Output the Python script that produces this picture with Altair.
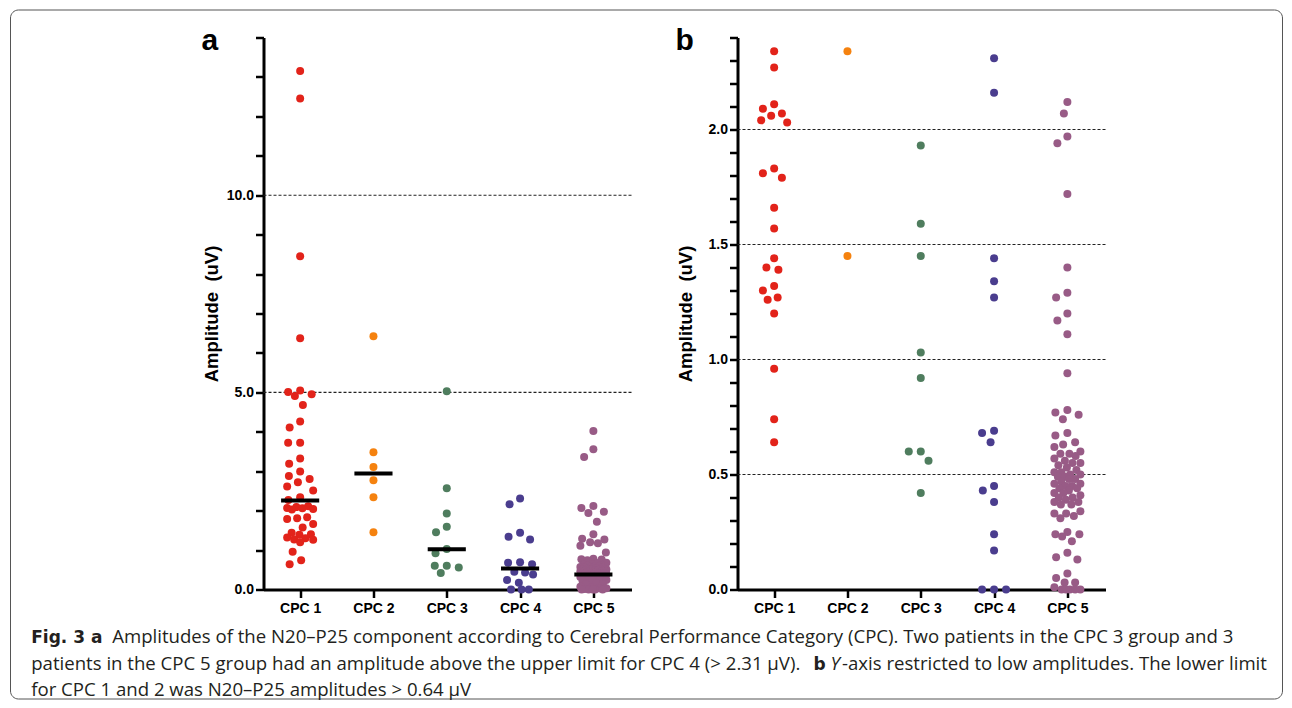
import math
import altair as alt
import numpy as np
import pandas as pd

# ---------------- data ----------------
categories = ["CPC 1", "CPC 2", "CPC 3", "CPC 4", "CPC 5"]
colors = ["#E2231A", "#F5820F", "#4F7D5E", "#4A3D8E", "#985B86"]

cpc1 = [13.15, 12.45, 8.45, 6.37, 5.05, 5.01, 4.95, 4.91, 4.68, 4.26, 4.11, 3.72, 3.72,
        3.32, 3.19, 2.99, 2.88, 2.80, 2.72, 2.61, 2.51, 2.34, 2.27, 2.11, 2.09, 2.07,
        2.06, 2.04, 2.03, 1.83, 1.81, 1.79, 1.66, 1.57, 1.44, 1.40, 1.39, 1.32, 1.30,
        1.27, 1.26, 1.20, 0.96, 0.74, 0.64]
cpc2 = [6.42, 3.48, 3.11, 2.77, 2.34, 1.45]
cpc3 = [5.03, 2.57, 1.93, 1.59, 1.45, 1.03, 0.92, 0.60, 0.60, 0.56, 0.42]
cpc4 = [2.31, 2.16, 1.44, 1.34, 1.27, 0.69, 0.68, 0.64, 0.45, 0.43, 0.38, 0.24, 0.17,
        0.0, 0.0, 0.0]
cpc5 = [4.02, 3.56, 3.36, 2.12, 2.07, 1.97, 1.94, 1.72, 1.40, 1.29, 1.27, 1.20, 1.17,
        1.11, 0.94, 0.78, 0.77, 0.76, 0.74, 0.68, 0.67, 0.64, 0.63, 0.62, 0.60, 0.59,
        0.59, 0.58, 0.57, 0.56, 0.55, 0.55, 0.54, 0.53, 0.52, 0.51, 0.51, 0.50, 0.50,
        0.49, 0.49, 0.48, 0.48, 0.47, 0.46, 0.46, 0.45, 0.45, 0.44, 0.44, 0.43, 0.42,
        0.42, 0.41, 0.40, 0.40, 0.39, 0.38, 0.38, 0.37, 0.37, 0.34, 0.33, 0.33, 0.32,
        0.31, 0.25, 0.24, 0.24, 0.23, 0.21, 0.16, 0.14, 0.13, 0.07, 0.05, 0.03, 0.03,
        0.01, 0.0, 0.0, 0.0, 0.0, 0.0]
groups = [cpc1, cpc2, cpc3, cpc4, cpc5]

medians_a = [2.26, 2.94, 1.02, 0.53, 0.38]
ref_lines_a = [5.0, 10.0]
ref_lines_b = [0.5, 1.0, 1.5, 2.0]
ymax_a = 14.0
ymax_b = 2.4

caption_l1_bold = "Fig. 3 a"
caption_l1 = ("Amplitudes of the N20–P25 component according to Cerebral Performance "
              "Category (CPC). Two patients in the CPC 3 group and 3")
caption_l2 = ("patients in the CPC 5 group had an amplitude above the upper limit for "
              "CPC 4 (> 2.31 µV).")
caption_l2_bold = "b"
caption_l2_ital = "Y"
caption_l2_rest = "-axis restricted to low amplitudes. The lower limit"
caption_l3 = "for CPC 1 and 2 was N20–P25 amplitudes > 0.64 µV"
y_title = "Amplitude\u00a0\u00a0(uV)"

# ---------------- layout ----------------
W, H = 368, 552
XDOM = [0.5, 5.52]
PPC = W / (XDOM[1] - XDOM[0])
AXFONT = "Liberation Sans"
CAPFONT = "Open Sans"
CAPSIZE = 18.6
BOLDFONT = "DejaVu Sans"
BOLDSIZE = 17


def swarm(vals, ppu, d=12.0, cap=13.0, step=0.25):
    n = len(vals)
    ys = [v * ppu for v in vals]
    order = sorted(range(n), key=lambda i: -vals[i])
    cands = sorted(np.arange(-cap, cap + 1e-9, step), key=lambda c: (abs(c), c))
    placed = []
    offs = [0.0] * n
    for i in order:
        y = ys[i]
        near = [(px, py) for px, py in placed if abs(py - y) < d]
        best, bs = 0.0, -1.0
        for c in cands:
            m = d
            for px, py in near:
                dist = math.hypot(c - px, y - py)
                if dist < m:
                    m = dist
            if m > bs + 1e-6:
                best, bs = float(c), m
                if m >= d:
                    break
        offs[i] = best
        placed.append((best, y))
    return offs


def points_df(ymax):
    ppu = H / ymax
    rows = []
    for k, vals in enumerate(groups):
        sub = [v for v in vals if v <= ymax]
        offs = swarm(sub, ppu)
        for v, o in zip(sub, offs):
            rows.append({"cat": categories[k], "x": k + 1 + o / PPC, "amp": v})
    return pd.DataFrame(rows)


def panel(ymax, step, label_every, refs, medians, letter, with_caption):
    xs = alt.Scale(domain=XDOM, nice=False, zero=False)
    ys = alt.Scale(domain=[0, ymax], nice=False, zero=True)
    nt = int(round(ymax / step))
    tick_vals = [round(i * step, 2) for i in range(nt + 1)]
    xaxis = alt.Axis(values=[1, 2, 3, 4, 5], labelExpr="'CPC ' + datum.value", title=None,
                     grid=False, tickSize=8, labelPadding=4, labelOverlap=False,
                     labelFlush=False)
    yaxis = alt.Axis(values=tick_vals,
                     labelExpr=f"(abs(datum.value/{label_every} - round(datum.value/{label_every})) < 0.001) ? format(datum.value, '.1f') : ''",
                     title=y_title, titleX=-46, titleY=H / 2, titleAngle=270,
                     titleAlign="center", titleBaseline="alphabetic",
                     titleFont=AXFONT, titleFontSize=18.5, titleFontWeight="bold",
                     titleColor="black", grid=False, tickSize=8, labelPadding=2,
                     labelOverlap=False, labelFlush=False)

    df = points_df(ymax)
    refs_df = pd.DataFrame({"amp": refs})

    layers = []
    layers.append(alt.Chart(refs_df).mark_rule(color="#222222", strokeWidth=1.1,
                                                strokeDash=[3, 2]).encode(
        y=alt.Y("amp:Q", scale=ys, axis=yaxis)))
    layers.append(alt.Chart(df).mark_circle(size=64, opacity=1).encode(
        x=alt.X("x:Q", scale=xs, axis=xaxis),
        y=alt.Y("amp:Q", scale=ys, axis=yaxis),
        color=alt.Color("cat:N", scale=alt.Scale(domain=categories, range=colors),
                        legend=None)))
    if medians:
        med_df = pd.DataFrame({"idx": [1, 2, 3, 4, 5], "amp": medians})
        layers.append(alt.Chart(med_df).transform_calculate(
            x1="datum.idx - 0.26", x2="datum.idx + 0.26").mark_rule(
            color="black", strokeWidth=4).encode(
            x=alt.X("x1:Q", scale=xs, axis=xaxis), x2="x2:Q",
            y=alt.Y("amp:Q", scale=ys, axis=yaxis)))
    one = pd.DataFrame({"t": [letter]})
    layers.append(alt.Chart(one).mark_text(font=AXFONT, fontSize=30, fontWeight="bold",
                                           align="left", baseline="alphabetic",
                                           color="black").encode(
        x=alt.value(-62), y=alt.value(12), text="t:N"))
    if with_caption:
        layers.append(alt.Chart(pd.DataFrame({"k": [0]})).mark_rect(
            fillOpacity=0, stroke="#555555", strokeWidth=1, cornerRadius=8).encode(
            x=alt.value(-253), x2=alt.value(1019), y=alt.value(-27.5), y2=alt.value(661.5)))

        def seg(text, x, y, weight="normal", style="normal", font=CAPFONT, size=CAPSIZE):
            return alt.Chart(pd.DataFrame({"t": [text]})).mark_text(
                font=font, fontSize=size, fontWeight=weight, fontStyle=style,
                align="left", baseline="alphabetic", color="#231F20").encode(
                x=alt.value(x), y=alt.value(y), text="t:N")

        y1, y2, y3 = 605.5, 632.0, 658.5
        layers.append(seg(caption_l1_bold, -232.3, y1, weight="bold", font=BOLDFONT,
                          size=BOLDSIZE))
        layers.append(seg(caption_l1, -151.3, y1))
        layers.append(seg(caption_l2, -232.3, y2))
        layers.append(seg(caption_l2_bold, 550.0, y2, weight="bold", font=BOLDFONT,
                          size=BOLDSIZE))
        layers.append(seg(caption_l2_ital, 567.0, y2, style="italic"))
        layers.append(seg(caption_l2_rest, 578.5, y2))
        layers.append(seg(caption_l3, -232.3, y3))

    return alt.layer(*layers).properties(width=W, height=H)


panel_a = panel(ymax_a, 1.0, 5, ref_lines_a, medians_a, "a", True)
panel_b = panel(ymax_b, 0.1, 0.5, ref_lines_b, None, "b", False)

chart = alt.hconcat(panel_a, panel_b, spacing=106, bounds="flush").properties(
    padding={"left": 1.5, "top": 0.5, "right": 0, "bottom": 0}
).configure_view(stroke="transparent").configure_axis(
    domainColor="black", domainWidth=3, tickColor="black", tickWidth=2.5,
    labelFont=AXFONT, labelFontSize=14, labelFontWeight="bold", labelColor="black"
)

chart.save("out.html", embed_options={"renderer": "svg", "actions": False})
